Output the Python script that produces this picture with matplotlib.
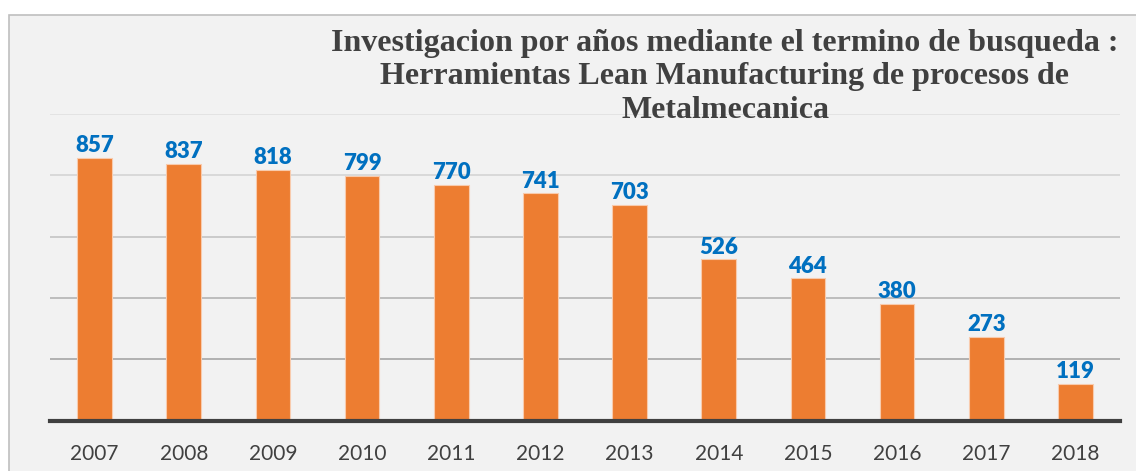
import matplotlib.pyplot as plt
from matplotlib.patches import Rectangle

# Data
years = ['2007', '2008', '2009', '2010', '2011', '2012',
         '2013', '2014', '2015', '2016', '2017', '2018']
counts = [857, 837, 818, 799, 770, 741, 703, 526, 464, 380, 273, 119]

title = ("Investigacion por años mediante el termino de busqueda :\n"
         "Herramientas Lean Manufacturing de procesos de\n"
         "Metalmecanica")

W, H = 1136, 471
fig = plt.figure(figsize=(W / 100, H / 100), dpi=100)
fig.patch.set_facecolor('white')

# chart area panel with grey border
panel = Rectangle((8.5 / W, -0.1), 1.2, (H - 15) / H + 0.1,
                  transform=fig.transFigure, facecolor='#F2F2F2',
                  edgecolor='#BFBFBF', linewidth=1.2, zorder=-10)
fig.patches.append(panel)

ax = fig.add_axes([50 / W, (H - 420.7) / H, 1070 / W, (420.7 - 114) / H])
ax.set_facecolor('none')
ax.set_zorder(1)

x = range(len(years))
ax.bar(x, counts, width=0.39, color='#ED7D31', edgecolor='#F8CBAD',
       linewidth=0.8, zorder=3)

# gridlines get darker towards the bottom
grid_colors = {200: '#A6A6A6', 400: '#B4B4B4', 600: '#C4C4C4',
               800: '#D4D4D4', 1000: '#E0E0E0'}
for v, c in grid_colors.items():
    ax.axhline(v, color=c, linewidth=1.2, zorder=1)

for i, v in enumerate(counts):
    ax.annotate(str(v), (i, v), xytext=(0, 4.2), textcoords='offset points',
                ha='center', va='baseline', fontsize=16, fontweight='heavy',
                family='Lato', color='#0070C0', zorder=4)

ax.set_xlim(-0.5, len(years) - 0.5)
ax.set_ylim(0, 1000)
ax.set_xticks(list(x))
ax.set_xticklabels(years, family='Lato', fontsize=15, color='#404040')
ax.set_yticks([])
ax.tick_params(axis='x', length=0, pad=16.5)

for s in ['top', 'right', 'left']:
    ax.spines[s].set_visible(False)
ax.spines['bottom'].set_color('#404040')
ax.spines['bottom'].set_linewidth(3)
ax.spines['bottom'].set_zorder(5)

fig.text(725 / W, 1 - 29 / H, title, ha='center', va='top',
         family='Liberation Serif', fontweight='bold', fontsize=23,
         color='#404040', linespacing=1.2, zorder=6)

fig.savefig('out.png', dpi=100)
